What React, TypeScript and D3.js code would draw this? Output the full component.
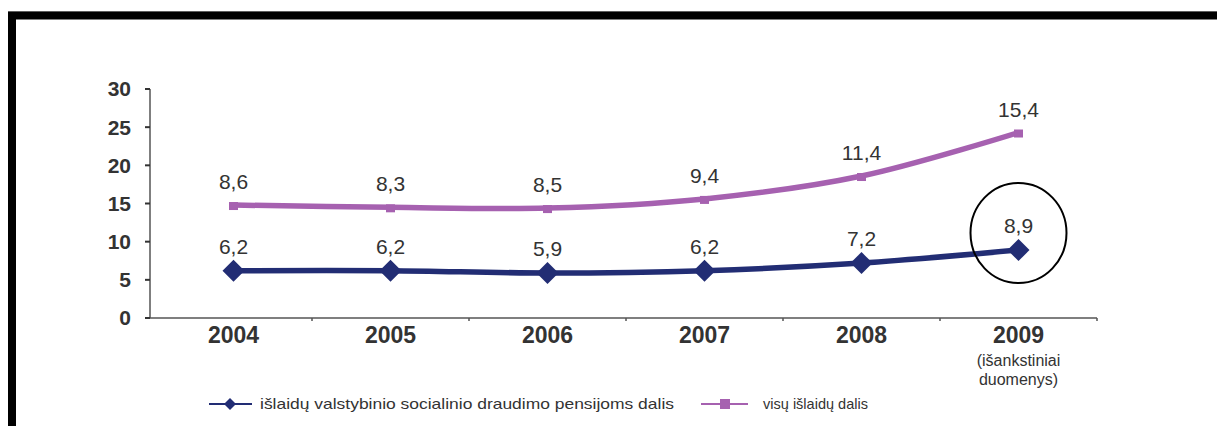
import React from "react";
import * as d3 from "d3";

const years = ["2004", "2005", "2006", "2007", "2008", "2009"];
const pensionShare = [6.2, 6.2, 5.9, 6.2, 7.2, 8.9];
const otherShare = [8.6, 8.3, 8.5, 9.4, 11.4, 15.4];
const yTicks = [0, 5, 10, 15, 20, 25, 30];
const seriesNames = [
  "išlaidų valstybinio socialinio draudimo pensijoms dalis",
  "visų išlaidų dalis",
];
const lastYearNote = ["(išankstiniai", "duomenys)"];

const W = 1217;
const H = 426;
const BLUE = "#222d74";
const PURPLE = "#a661b0";
const TEXT = "#333";
const FONT = "'Liberation Sans', Arial, sans-serif";

const fmt = (v: number) => v.toFixed(1).replace(".", ",");

export default function App() {
  const x = d3.scaleBand<string>().domain(years).range([155, 1097]).padding(0);
  const y = d3.scaleLinear().domain([0, 30]).range([318, 89]);
  const cx = (yr: string) => (x(yr) as number) + x.bandwidth() / 2;

  const bluePts: [number, number][] = years.map((yr, i) => [cx(yr), y(pensionShare[i])]);
  const purpleTotals = years.map((_, i) => pensionShare[i] + otherShare[i]);
  const purplePts: [number, number][] = years.map((yr, i) => [cx(yr), y(purpleTotals[i])]);

  const line = d3.line().curve(d3.curveCatmullRom.alpha(0.5));

  const diamond = (px: number, py: number, r: number) =>
    `M${px},${py - r}L${px + r},${py}L${px},${py + r}L${px - r},${py}Z`;

  const x0 = 150;
  const x1 = 1097;
  const boundaries = years.map((yr) => x(yr) as number).slice(1).concat([x1]);

  return (
    <svg
      width={W}
      height={H}
      style={{ position: "absolute", left: 0, top: 0, background: "#fff" }}
      fontFamily={FONT}
    >
      <rect x={0} y={0} width={W} height={H} fill="#fff" />
      <line x1={8} x2={W} y1={11.5} y2={11.5} stroke="#bbb" strokeWidth={1} />
      <rect x={12} y={15.5} width={W + 100} height={H + 100} fill="none" stroke="#000" strokeWidth={8} />

      {/* Y axis */}
      <line x1={x0} x2={x0} y1={y(30)} y2={y(0)} stroke="#555" strokeWidth={1.5} />
      {yTicks.map((t) => (
        <g key={t}>
          <line x1={x0 - 5} x2={x0} y1={y(t)} y2={y(t)} stroke="#333" strokeWidth={2} />
          <text
            x={131}
            y={y(t)}
            dy="0.35em"
            textAnchor="end"
            fontSize={21}
            fontWeight="bold"
            fill={TEXT}
          >
            {t}
          </text>
        </g>
      ))}

      {/* X axis */}
      <line x1={x0} x2={x1} y1={y(0)} y2={y(0)} stroke="#555" strokeWidth={1.5} />
      {boundaries.map((b, i) => (
        <line key={i} x1={b} x2={b} y1={y(0)} y2={y(0) + 3} stroke="#555" strokeWidth={1.5} />
      ))}
      {years.map((yr) => (
        <text
          key={yr}
          x={cx(yr)}
          y={343}
          textAnchor="middle"
          fontSize={23}
          fontWeight="bold"
          fill={TEXT}
        >
          {yr}
        </text>
      ))}
      {lastYearNote.map((s, i) => (
        <text
          key={s}
          x={cx(years[years.length - 1])}
          y={366 + i * 19}
          textAnchor="middle"
          fontSize={16}
          fill={TEXT}
        >
          {s}
        </text>
      ))}

      {/* Purple (stacked) line */}
      <path d={line(purplePts) as string} fill="none" stroke={PURPLE} strokeWidth={5.5} strokeLinejoin="round" />
      {purplePts.map(([px, py], i) => (
        <rect key={i} x={px - 4.5} y={py - 3} width={9} height={8} fill={PURPLE} />
      ))}

      {/* Blue line */}
      <path d={line(bluePts) as string} fill="none" stroke={BLUE} strokeWidth={5.5} strokeLinejoin="round" />
      {bluePts.map(([px, py], i) => (
        <path key={i} d={diamond(px, py, 11)} fill={BLUE} />
      ))}

      {/* Data labels */}
      {purplePts.map(([px, py], i) => (
        <text key={"p" + i} x={px} y={py - 16} textAnchor="middle" fontSize={21} fill={TEXT}>
          {fmt(otherShare[i])}
        </text>
      ))}
      {bluePts.map(([px, py], i) => (
        <text key={"b" + i} x={px} y={py - 17} textAnchor="middle" fontSize={21} fill={TEXT}>
          {fmt(pensionShare[i])}
        </text>
      ))}

      {/* Annotation circle */}
      <ellipse
        cx={cx(years[5])}
        cy={233}
        rx={48}
        ry={50}
        fill="none"
        stroke="#000"
        strokeWidth={2}
      />

      {/* Legend */}
      <g>
        <line x1={209} x2={252} y1={404} y2={404} stroke={BLUE} strokeWidth={2} />
        <path d={diamond(230, 404, 6)} fill={BLUE} />
        <text x={260} y={404} dy="0.35em" fontSize={15} fill={TEXT} textLength={414} lengthAdjust="spacingAndGlyphs">
          {seriesNames[0]}
        </text>
        <line x1={701} x2={748} y1={404} y2={404} stroke={PURPLE} strokeWidth={2} />
        <rect x={720} y={399} width={10} height={10} fill={PURPLE} />
        <text x={763} y={404} dy="0.35em" fontSize={15} fill={TEXT} textLength={105} lengthAdjust="spacingAndGlyphs">
          {seriesNames[1]}
        </text>
      </g>
    </svg>
  );
}
